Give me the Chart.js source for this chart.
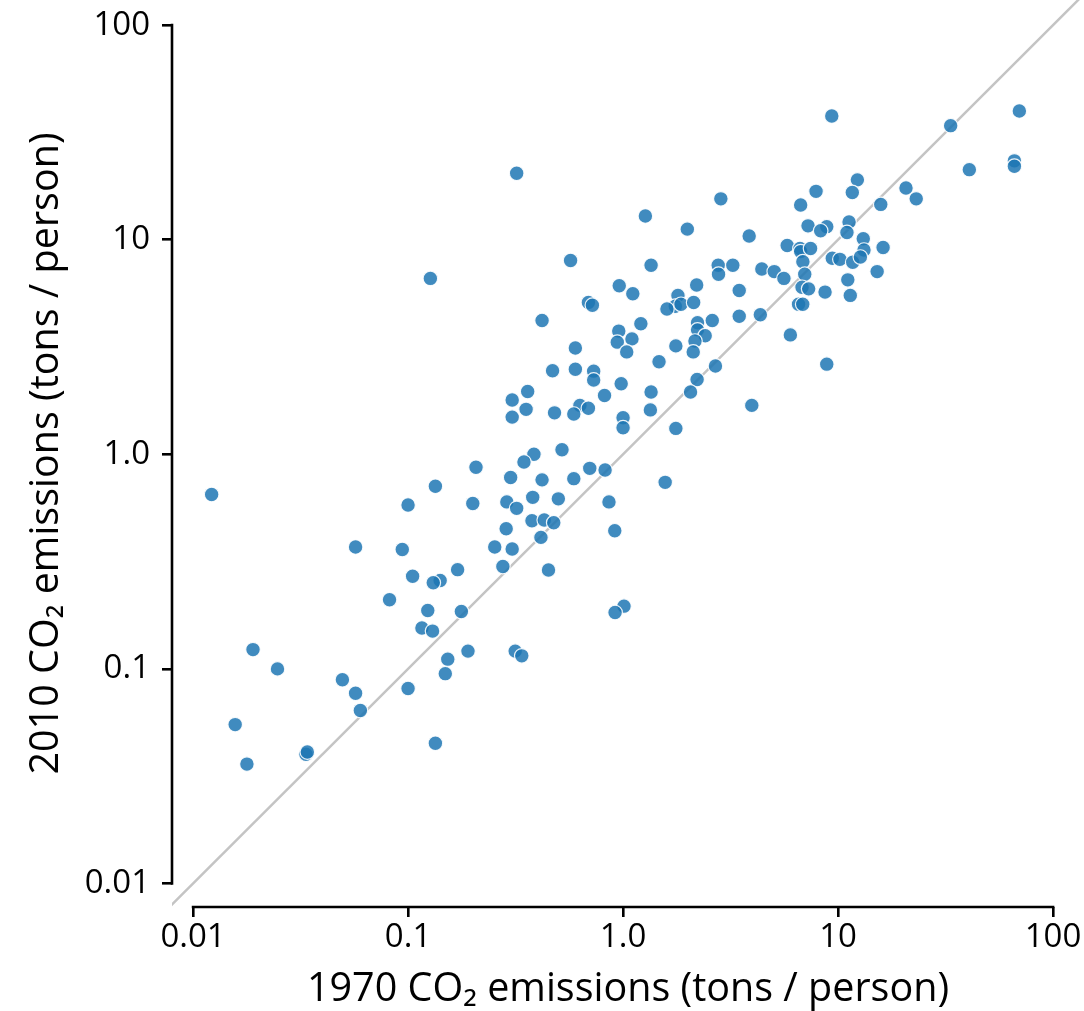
<!DOCTYPE html>
<html>
<head>
<meta charset="utf-8">
<script src="https://cdn.jsdelivr.net/npm/chart.js@4/dist/chart.umd.min.js"></script>
<style>
  html, body { margin: 0; padding: 0; background: #fff; }
  #wrap { position: relative; width: 1084px; height: 1011px; }
</style>
</head>
<body>
<div id="wrap"><canvas id="c"></canvas></div>
<script>
// 1970 vs 2010 CO2 emissions per person (tons), one entry per country
const emissions1970 = [
  0.0122, 0.100, 0.057, 0.094, 0.105, 0.082, 0.019, 0.0247, 0.0495, 0.057,
  0.060, 0.100, 0.0157, 0.0178, 0.0335, 0.034, 0.32, 0.57, 0.127, 0.96,
  1.11, 0.69, 0.72, 0.42, 0.955, 0.94, 1.10, 1.04, 0.60, 0.47,
  0.60, 0.73, 0.73, 0.98, 0.36, 0.82, 0.305, 0.63, 0.354, 0.305,
  0.48, 0.59, 0.69, 1.0, 1.0, 0.52, 0.385, 0.346, 0.207, 0.134,
  0.70, 0.825, 0.59, 0.30, 0.42, 0.20, 0.288, 0.32, 0.38, 0.50,
  0.86, 0.377, 0.43, 0.476, 0.286, 0.415, 0.915, 0.253, 0.305, 0.276,
  0.45, 0.141, 0.131, 0.170, 0.1235, 0.177, 0.116, 0.130, 1.01, 0.918,
  2.85, 1.27, 1.99, 7.9, 6.7, 3.86, 7.25, 8.86, 8.3, 11.25,
  11.0, 1.35, 5.8, 6.65, 6.7, 7.45, 2.77, 2.78, 3.24, 4.42,
  5.05, 5.6, 6.86, 7.0, 9.4, 10.2, 11.7, 11.1, 2.2, 1.8,
  1.75, 1.6, 1.86, 2.13, 3.47, 6.8, 7.3, 8.7, 6.55, 6.85,
  11.4, 3.47, 4.35, 6.0, 1.21, 2.22, 2.22, 2.6, 2.41, 2.16,
  1.76, 2.12, 1.47, 2.69, 8.86, 2.21, 1.35, 2.06, 3.97, 1.34,
  1.76, 1.57, 9.35, 12.3, 11.65, 15.8, 20.7, 23.1, 13.1, 13.2,
  12.7, 16.2, 15.2, 69.7, 33.4, 40.8, 66.1, 66.1, 0.19, 0.153,
  0.149, 0.315, 0.338, 0.134
];
const emissions2010 = [
  0.65, 0.58, 0.37, 0.36, 0.27, 0.21, 0.123, 0.100, 0.089, 0.077,
  0.064, 0.081, 0.055, 0.036, 0.040, 0.041, 20.4, 8.0, 6.6, 6.1,
  5.6, 5.1, 4.95, 4.2, 3.75, 3.33, 3.45, 3.0, 3.13, 2.45,
  2.49, 2.44, 2.22, 2.13, 1.96, 1.88, 1.79, 1.69, 1.62, 1.49,
  1.56, 1.54, 1.64, 1.48, 1.33, 1.05, 1.0, 0.92, 0.87, 0.71,
  0.86, 0.845, 0.77, 0.78, 0.76, 0.59, 0.60, 0.56, 0.63, 0.62,
  0.60, 0.49, 0.494, 0.48, 0.45, 0.41, 0.44, 0.37, 0.362, 0.30,
  0.289, 0.258, 0.252, 0.29, 0.187, 0.185, 0.155, 0.150, 0.196, 0.183,
  15.5, 12.9, 11.2, 16.8, 14.5, 10.4, 11.6, 11.5, 11.0, 12.1,
  10.8, 7.6, 9.4, 9.1, 8.8, 9.1, 7.6, 6.9, 7.6, 7.3,
  7.1, 6.6, 7.9, 6.9, 8.2, 8.1, 7.85, 6.5, 6.15, 5.5,
  4.9, 4.75, 5.0, 5.1, 5.8, 6.0, 5.9, 5.7, 5.0, 5.0,
  5.5, 4.4, 4.47, 3.6, 4.06, 4.1, 3.8, 4.2, 3.57, 3.37,
  3.2, 3.0, 2.7, 2.58, 2.63, 2.23, 1.95, 1.95, 1.69, 1.61,
  1.32, 0.74, 37.7, 19.0, 16.6, 14.6, 17.4, 15.5, 10.1, 8.95,
  8.3, 9.2, 7.1, 39.8, 34.0, 21.2, 23.3, 22.0, 0.121, 0.111,
  0.095, 0.121, 0.115, 0.045
];
// reference line y = x
const identityLine = [0.005, 200];
// axis ticks
const tickValues = [0.01, 0.1, 1, 10, 100];
const tickLabels = ['0.01', '0.1', '1.0', '10', '100'];
const xTitle = '1970 CO\u2082 emissions (tons / person)';
const yTitle = '2010 CO\u2082 emissions (tons / person)';

const FONT = "'Open Sans', 'DejaVu Sans', sans-serif";

const points = emissions1970.map((x, i) => ({ x: x, y: emissions2010[i] }));
const diag = identityLine.map(v => ({ x: v, y: v }));

const trimmedAxes = {
  id: 'trimmedAxes',
  afterDraw(chart) {
    const { ctx, chartArea, scales } = chart;
    const xs = scales.x, ys = scales.y;
    ctx.save();
    ctx.strokeStyle = '#000';
    ctx.lineWidth = 2.6;
    ctx.lineCap = 'butt';
    ctx.beginPath();
    const y0 = ys.getPixelForValue(tickValues[0]);
    const y1 = ys.getPixelForValue(tickValues[tickValues.length - 1]);
    ctx.moveTo(chartArea.left, y0 + 1.3);
    ctx.lineTo(chartArea.left, y1 - 1.3);
    const x0 = xs.getPixelForValue(tickValues[0]);
    const x1 = xs.getPixelForValue(tickValues[tickValues.length - 1]);
    ctx.moveTo(x0 - 1.3, chartArea.bottom);
    ctx.lineTo(x1 + 1.3, chartArea.bottom);
    ctx.stroke();
    ctx.restore();
  }
};

function setTicks(scale) {
  scale.ticks = tickValues.map(v => ({ value: v }));
}
function fmt(value) {
  const i = tickValues.indexOf(value);
  return i >= 0 ? tickLabels[i] : '';
}
function noPad(scale) {
  scale.paddingTop = 0;
  scale.paddingBottom = 0;
  scale.paddingLeft = 0;
  scale.paddingRight = 0;
}

new Chart(document.getElementById('c'), {
  data: {
    datasets: [
      {
        type: 'scatter',
        data: points,
        backgroundColor: 'rgba(31,119,180,0.85)',
        borderColor: 'rgba(255,255,255,0.9)',
        borderWidth: 1.2,
        pointRadius: 7.3,
        pointHoverRadius: 7.3,
        order: 0
      },
      {
        type: 'line',
        data: diag,
        borderColor: '#c4c4c4',
        borderWidth: 2.5,
        pointRadius: 0,
        fill: false,
        order: 1
      }
    ]
  },
  options: {
    responsive: true,
    maintainAspectRatio: false,
    animation: false,
    layout: { padding: 0, autoPadding: false },
    plugins: { legend: { display: false }, tooltip: { enabled: false } },
    scales: {
      x: {
        type: 'logarithmic',
        position: 'bottom',
        min: 0.00798,
        max: 139.3,
        afterBuildTicks: setTicks,
        afterFit(scale) { scale.height = 104; noPad(scale); },
        border: { display: false },
        grid: { display: true, drawOnChartArea: false, drawTicks: true, tickLength: 10, color: '#000', lineWidth: 2.6 },
        ticks: { callback: fmt, color: '#000', font: { family: FONT, size: 33 }, padding: 1, maxRotation: 0, autoSkip: false },
        title: { display: true, text: xTitle, color: '#000', font: { family: FONT, size: 39.5 }, padding: { top: 0, bottom: -2 } }
      },
      y: {
        type: 'logarithmic',
        position: 'left',
        min: 0.00777,
        max: 130.9,
        afterBuildTicks: setTicks,
        afterFit(scale) { scale.width = 172; noPad(scale); },
        border: { display: false },
        grid: { display: true, drawOnChartArea: false, drawTicks: true, tickLength: 10, color: '#000', lineWidth: 2.6 },
        ticks: { callback: fmt, color: '#000', font: { family: FONT, size: 33 }, padding: 12, autoSkip: false },
        title: { display: true, text: yTitle, color: '#000', font: { family: FONT, size: 39.5 }, padding: { top: 23, bottom: 0 } }
      }
    }
  },
  plugins: [trimmedAxes]
});
</script>
</body>
</html>
